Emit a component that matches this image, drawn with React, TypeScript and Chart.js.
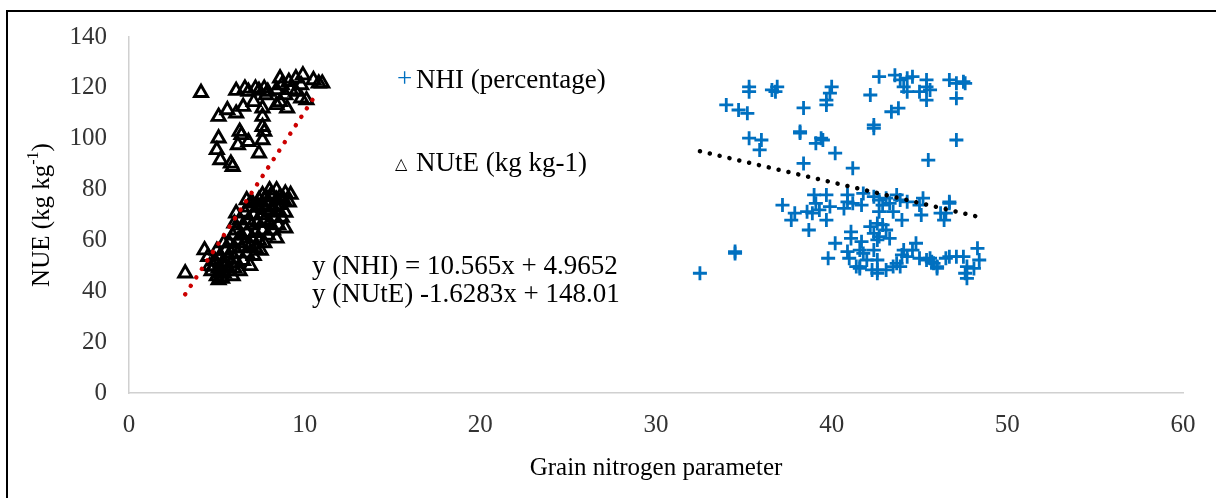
import React, { useEffect, useRef } from "react";
import { Chart, registerables } from "chart.js";

Chart.register(...registerables);

// ---------- data ----------
const xTickValues = [0, 10, 20, 30, 40, 50, 60];
const yTickValues = [0, 20, 40, 60, 80, 100, 120, 140];
const xTitle = "Grain nitrogen parameter";
const yTitleMain = "NUE (kg kg";
const yTitleSup = "-1";
const yTitleEnd = ")";
const nhiLabel = "NHI (percentage)";
const nuteLabel = "NUtE (kg kg-1)";
const eqNhi = "y (NHI) = 10.565x + 4.9652";
const eqNute = "y (NUtE) -1.6283x + 148.01";

// NHI (percentage) – blue crosses
const nhiPoints: [number, number][] = [
  [35.3, 120.4], [35.3, 118.5], [36.6, 119.2], [36.9, 120.4], [36.8, 118.5],
  [34.0, 113.3], [34.7, 111.3], [35.2, 110.0], [38.4, 112.1],
  [40.0, 120.4], [39.9, 117.9], [39.7, 115.2], [39.7, 113.3],
  [42.2, 117.2], [42.7, 124.4], [43.6, 125.0], [43.9, 123.1], [44.3, 123.8], [44.6, 124.4], [44.1, 120.4], [44.3, 118.5],
  [45.4, 123.1], [45.4, 120.4], [45.6, 119.2], [45.0, 118.5], [45.4, 115.2],
  [46.7, 123.1], [47.1, 121.8], [47.1, 115.9], [47.5, 122.4], [47.6, 121.8],
  [43.8, 112.0], [43.4, 110.6], [42.4, 105.4], [42.4, 104.1],
  [35.3, 100.2], [36.0, 99.5], [35.9, 95.6], [38.2, 102.8], [38.2, 102.2], [39.1, 98.2], [39.4, 100.2], [39.5, 99.5],
  [40.2, 94.3], [38.4, 90.3], [41.2, 88.4], [45.5, 91.6], [47.1, 99.5],
  [32.5, 47.1], [34.5, 55.6], [34.5, 54.9],
  [37.2, 73.9], [37.9, 70.7], [37.7, 68.0], [38.6, 71.3], [38.7, 64.1], [39.0, 77.9], [39.1, 74.6], [38.9, 70.7],
  [39.3, 72.0], [39.7, 77.9], [39.9, 73.3], [39.7, 68.0],
  [40.9, 77.9], [40.9, 75.2], [40.7, 72.6], [41.2, 74.6], [41.7, 73.9],
  [41.8, 78.5], [42.4, 77.2], [42.7, 75.9], [43.1, 76.6], [42.9, 73.9], [42.7, 71.3], [43.3, 74.6], [43.7, 77.9],
  [43.9, 75.9], [43.5, 71.3], [44.0, 68.0], [44.3, 75.2],
  [45.2, 76.6], [45.1, 70.0], [45.0, 73.9], [46.5, 70.7], [46.7, 74.6],
  [42.2, 65.4], [42.6, 66.7], [42.9, 66.1], [43.1, 64.1], [42.4, 62.8], [42.7, 61.5], [42.6, 60.2], [43.3, 60.8],
  [41.1, 63.4], [41.1, 60.8], [40.2, 58.9], [41.7, 59.5], [41.6, 56.2], [39.8, 53.0], [40.9, 55.6], [41.0, 53.0],
  [41.8, 54.9], [42.0, 52.3], [41.6, 49.7], [42.4, 56.2], [42.6, 52.3], [41.4, 49.7], [41.6, 49.0], [42.3, 48.4],
  [42.6, 47.1], [42.6, 48.4], [43.1, 48.4], [43.5, 49.7], [43.7, 51.0], [43.9, 49.7], [44.0, 54.3], [44.1, 56.2],
  [44.3, 53.6], [44.8, 58.9], [44.6, 56.2], [45.0, 53.0], [45.4, 52.3], [45.6, 53.0], [45.8, 51.0], [46.0, 49.7],
  [45.7, 51.6], [46.5, 53.0], [47.1, 53.6],
  [46.7, 75.2], [46.2, 70.7], [46.4, 68.0], [46.0, 49.0], [46.7, 53.6], [47.5, 53.6], [47.7, 49.7], [47.6, 47.1],
  [47.7, 45.1], [48.1, 49.0], [48.3, 56.9], [48.4, 52.3],
];

// NUtE (kg kg-1) – open triangles
const nutePoints: [number, number][] = [
  // upper group
  [4.1, 118.1], [6.1, 118.9], [6.6, 119.8], [6.8, 118.5], [7.2, 119.8], [7.4, 118.9], [7.7, 119.8], [7.9, 118.5],
  [8.4, 119.2], [8.6, 123.8], [8.7, 121.1], [9.1, 122.4], [9.2, 119.2], [9.5, 123.8], [9.9, 125.0], [9.8, 121.1],
  [10.5, 123.1], [10.8, 121.8], [11.0, 121.8], [9.5, 118.5], [9.8, 115.9], [10.1, 115.2], [8.9, 117.2], [8.6, 114.5],
  [9.0, 112.0],
  [5.1, 108.7], [5.6, 111.3], [6.1, 110.0], [6.5, 112.6], [7.1, 114.5], [7.6, 112.0], [7.6, 108.7], [8.4, 113.3],
  [7.8, 117.2],
  [7.6, 104.7], [7.7, 102.8], [7.6, 99.5], [7.4, 94.3], [6.3, 102.8], [6.4, 101.5], [6.8, 98.8], [6.2, 97.5],
  [5.1, 100.2], [5.0, 95.6], [5.2, 91.6], [5.8, 90.3], [5.9, 89.0],
  // lower group
  [3.2, 47.1], [4.3, 56.2], [4.5, 53.6], [4.8, 49.7], [5.1, 44.4], [5.2, 47.1],
  [6.1, 70.7], [6.0, 66.7], [6.7, 75.9], [6.9, 74.6], [7.6, 77.9], [8.0, 79.8], [8.4, 79.8], [8.6, 77.2], [8.9, 78.5],
  [8.9, 64.8], [8.4, 60.8],
  [4.6, 50.0], [4.7, 48.0], [4.9, 52.0], [5.0, 46.0], [5.0, 56.0], [5.1, 49.0], [5.2, 54.0], [5.3, 51.0], [5.3, 45.0],
  [5.4, 47.0], [5.4, 59.0],
  [5.5, 50.0], [5.5, 56.0], [5.6, 53.0], [5.7, 48.0], [5.7, 59.0], [5.8, 51.0], [5.8, 55.0], [5.9, 46.0], [5.9, 62.0],
  [6.0, 49.0], [6.0, 57.0], [6.0, 53.0],
  [6.1, 64.0], [6.1, 51.0], [6.2, 60.0], [6.2, 55.0], [6.3, 68.0], [6.3, 48.0], [6.4, 57.0], [6.4, 62.0], [6.5, 52.0],
  [6.5, 66.0], [6.6, 59.0], [6.6, 71.0],
  [6.7, 55.0], [6.7, 63.0], [6.8, 68.0], [6.8, 73.0], [6.9, 50.0], [6.9, 58.0], [7.0, 61.0], [7.0, 66.0], [7.0, 75.0],
  [7.1, 54.0], [7.1, 70.0], [7.2, 63.0], [7.2, 57.0],
  [7.3, 73.0], [7.3, 67.0], [7.4, 60.0], [7.4, 76.0], [7.5, 56.0], [7.5, 70.0], [7.6, 64.0], [7.6, 74.0], [7.7, 59.0],
  [7.7, 68.0], [7.8, 72.0], [7.8, 77.0],
  [7.9, 62.0], [7.9, 75.0], [8.0, 67.0], [8.0, 71.0], [8.1, 78.0], [8.2, 64.0], [8.2, 73.0], [8.3, 69.0], [8.4, 76.0],
  [8.5, 72.0], [8.5, 66.0],
  [8.6, 74.0], [8.7, 69.0], [8.8, 76.0], [8.9, 71.0], [9.1, 75.0], [9.2, 78.0],
];

// trend lines (end points)
const redTrend: [number, number][] = [[3.2, 38.8], [10.5, 115.9]];
const blackTrend: [number, number][] = [[32.5, 95.1], [48.4, 69.2]];

// ---------- styles ----------
const SERIF = '"Liberation Serif", "Times New Roman", serif';
const BLUE = "#0070C0";

const toXY = (arr: [number, number][]) => arr.map(([x, y]) => ({ x, y }));

const decorPlugin = {
  id: "decor",
  beforeDraw(chart: any) {
    const ctx = chart.ctx;
    ctx.save();
    ctx.fillStyle = "#ffffff";
    ctx.fillRect(0, 0, chart.width, chart.height);
    ctx.strokeStyle = "#000000";
    ctx.lineWidth = 2;
    ctx.beginPath();
    ctx.moveTo(7, chart.height);
    ctx.lineTo(7, 11);
    ctx.lineTo(chart.width, 11);
    ctx.stroke();
    ctx.restore();
  },
  afterDraw(chart: any) {
    const ctx = chart.ctx;
    ctx.save();
    // y-axis title with superscript
    const main = `25px ${SERIF}`;
    const sup = `16px ${SERIF}`;
    ctx.font = main;
    const w1 = ctx.measureText(yTitleMain).width;
    const w3 = ctx.measureText(yTitleEnd).width;
    ctx.font = sup;
    const w2 = ctx.measureText(yTitleSup).width;
    const total = w1 + w2 + w3;
    ctx.translate(42, 215);
    ctx.rotate(-Math.PI / 2);
    ctx.fillStyle = "#000";
    ctx.textBaseline = "middle";
    ctx.textAlign = "left";
    const x0 = -total / 2;
    ctx.font = main;
    ctx.fillText(yTitleMain, x0, 0);
    ctx.font = sup;
    ctx.fillText(yTitleSup, x0 + w1, -8);
    ctx.font = main;
    ctx.fillText(yTitleEnd, x0 + w1 + w2, 0);
    ctx.restore();

    ctx.save();
    ctx.textBaseline = "middle";
    ctx.textAlign = "left";
    ctx.font = `27px ${SERIF}`;
    ctx.fillStyle = BLUE;
    ctx.fillText("+", 397, 80);
    ctx.fillStyle = "#000";
    ctx.fillText(nhiLabel, 416, 81);
    ctx.font = `16px "DejaVu Sans"`;
    ctx.fillText("\u25B3", 395, 165);
    ctx.font = `27px ${SERIF}`;
    ctx.fillText(nuteLabel, 416, 164);
    ctx.fillText(eqNhi, 312, 267);
    ctx.fillText(eqNute, 312, 295);
    ctx.restore();
  },
};

export default function App() {
  const ref = useRef<HTMLCanvasElement | null>(null);

  useEffect(() => {
    if (!ref.current) return;
    const chart = new Chart(ref.current, {
      type: "scatter",
      data: {
        datasets: [
          {
            label: "NUtE trend",
            type: "line",
            data: toXY(redTrend),
            borderColor: "#CC0000",
            borderWidth: 4.5,
            borderDash: [0.1, 10],
            borderCapStyle: "round",
            pointRadius: 0,
            fill: false,
            order: 0,
          } as any,
          {
            label: "NHI trend",
            type: "line",
            data: toXY(blackTrend),
            borderColor: "#000000",
            borderWidth: 4.5,
            borderDash: [0.1, 10],
            borderCapStyle: "round",
            pointRadius: 0,
            fill: false,
            order: 0,
          } as any,
          {
            label: nhiLabel,
            data: toXY(nhiPoints),
            pointStyle: "cross",
            pointRadius: 7,
            pointBorderWidth: 2.8,
            borderColor: BLUE,
            backgroundColor: BLUE,
            order: 2,
          },
          {
            label: nuteLabel,
            data: toXY(nutePoints),
            pointStyle: "triangle",
            pointRadius: 7.5,
            pointBorderWidth: 2.9,
            borderColor: "#000000",
            backgroundColor: "rgba(255,255,255,0)",
            order: 1,
          },
        ],
      },
      options: {
        responsive: false,
        animation: false,
        events: [],
        layout: { padding: { left: 0, top: 37, right: 33, bottom: 0 } },
        plugins: {
          legend: { display: false },
          tooltip: { enabled: false },
        },
        scales: {
          x: {
            type: "linear",
            min: 0,
            max: 60,
            afterBuildTicks: (s: any) => {
              s.ticks = xTickValues.map((v) => ({ value: v }));
            },
            afterFit: (s: any) => {
              s.height = 105;
            },
            grid: { display: false, drawTicks: false },
            border: { display: true, color: "#d0d0d0", width: 1.5 },
            ticks: {
              padding: 17,
              color: "#333",
              font: { family: SERIF, size: 25 },
            },
            title: {
              display: true,
              text: xTitle,
              color: "#000",
              font: { family: SERIF, size: 25 },
              padding: { top: 0, bottom: 15 },
            },
          },
          y: {
            type: "linear",
            min: 0,
            max: 140,
            afterBuildTicks: (s: any) => {
              s.ticks = yTickValues.map((v) => ({ value: v }));
            },
            afterFit: (s: any) => {
              s.width = 129;
            },
            grid: { display: false, drawTicks: false },
            border: { display: true, color: "#d0d0d0", width: 1.5 },
            ticks: {
              padding: 22,
              color: "#333",
              font: { family: SERIF, size: 25 },
            },
          },
        },
      },
      plugins: [decorPlugin],
    });
    return () => chart.destroy();
  }, []);

  return (
    <div style={{ position: "fixed", left: 0, top: 0, width: 1216, height: 498, background: "#fff" }}>
      <canvas ref={ref} width={1216} height={498} style={{ display: "block", width: 1216, height: 498 }} />
    </div>
  );
}
